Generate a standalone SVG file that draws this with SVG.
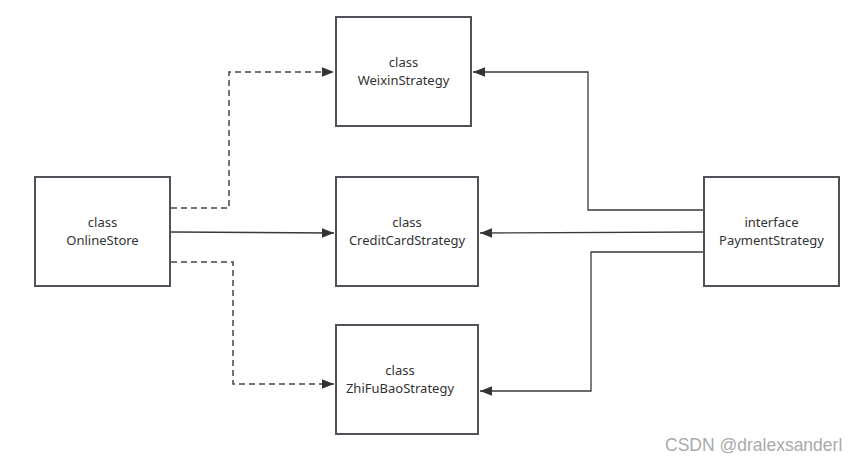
<svg xmlns="http://www.w3.org/2000/svg" width="858" height="463" viewBox="0 0 858 463">
<style>
.box{fill:#fff;stroke:#505259;stroke-width:2}
.t{font-family:"Microsoft YaHei","Noto Sans","DejaVu Sans",sans-serif;font-size:13px;fill:#333;text-anchor:middle}
.c{fill:none;stroke:#3a3a3a;stroke-width:1.3}
.d{stroke-dasharray:6,4;stroke:#444;stroke-width:1.5}
.wm{font-family:"Liberation Sans",Arial,sans-serif;font-size:17.5px;fill:#aaa}
</style>
<defs>
<marker id="ah" viewBox="0 0 10 10" refX="10" refY="5" markerWidth="12" markerHeight="12" markerUnits="userSpaceOnUse" orient="auto">
<path d="M0,1 L10,5 L0,9 Z" fill="#333"/>
</marker>
</defs>
<rect width="858" height="463" fill="#fff"/>
<g id="connectors">
<polyline class="c d" points="171,208 229,208 229,72 334,72" marker-end="url(#ah)"/>
<polyline class="c" points="171,232 334,233" marker-end="url(#ah)"/>
<polyline class="c d" points="171,262 233,262 233,384 334,384" marker-end="url(#ah)"/>
<polyline class="c" points="703,210 588,210 588,72 473,72" marker-end="url(#ah)"/>
<polyline class="c" points="703,232 480,233" marker-end="url(#ah)"/>
<polyline class="c" points="703,252 591,252 591,391 480,391" marker-end="url(#ah)"/>
</g>
<g id="OnlineStore"><rect class="box" x="35" y="177" width="135" height="109"/><text class="t" x="102.5" y="226.5">class</text><text class="t" x="102.5" y="244.5">OnlineStore</text></g>
<g id="WeixinStrategy"><rect class="box" x="336" y="17" width="135" height="109"/><text class="t" x="403.5" y="66.5">class</text><text class="t" x="403.5" y="84.5">WeixinStrategy</text></g>
<g id="CreditCardStrategy"><rect class="box" x="336" y="177" width="142" height="109"/><text class="t" x="407" y="226.5">class</text><text class="t" x="407" y="244.5">CreditCardStrategy</text></g>
<g id="ZhiFuBaoStrategy"><rect class="box" x="336" y="325" width="142" height="109"/><text class="t" x="400" y="374.5">class</text><text class="t" x="400" y="392.5">ZhiFuBaoStrategy</text></g>
<g id="PaymentStrategy"><rect class="box" x="704" y="177" width="135" height="109"/><text class="t" x="771.5" y="226.5">interface</text><text class="t" x="771.5" y="244.5">PaymentStrategy</text></g>
<text class="wm" x="665" y="451">CSDN @dralexsanderl</text>
</svg>
